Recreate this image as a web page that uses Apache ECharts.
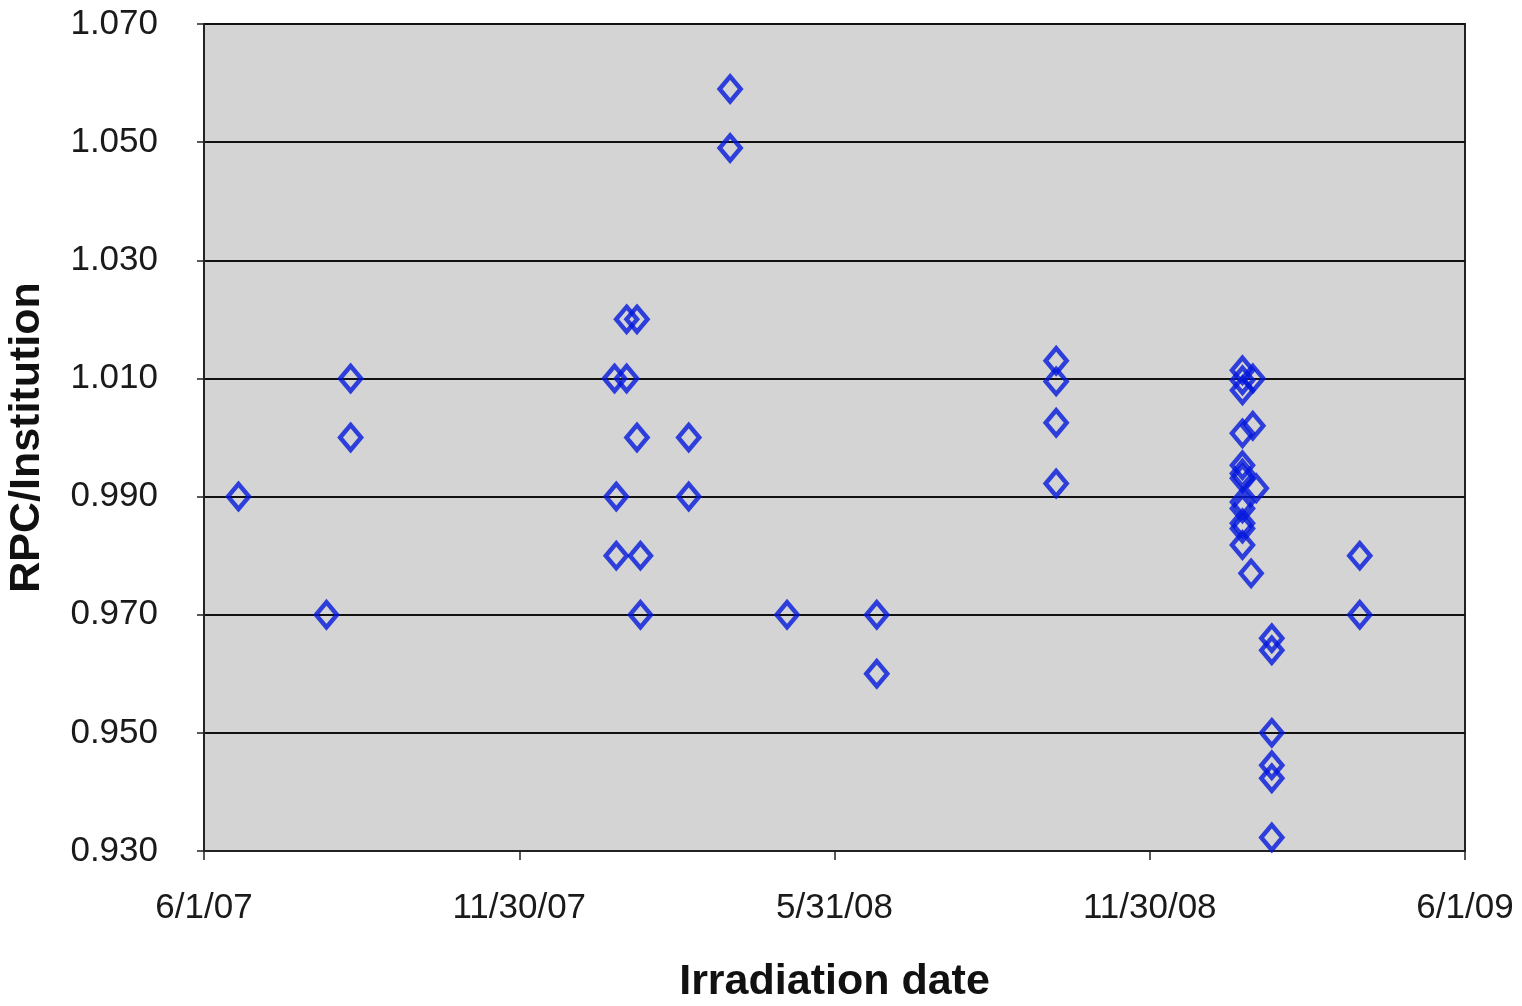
<!DOCTYPE html>
<html>
<head>
<meta charset="utf-8">
<script src="https://cdn.jsdelivr.net/npm/echarts@6/dist/echarts.min.js"></script>
<style>
  html, body { margin: 0; padding: 0; background: #fff; }
  #chart { width: 1522px; height: 1006px; }
</style>
</head>
<body>
<div id="chart"></div>
<script>
// irradiation dates and RPC/Institution ratios
var dates = [
  '2007-06-21', '2007-08-11', '2007-08-25', '2007-08-25',
  '2008-02-01', '2008-02-07', '2008-01-25', '2008-02-01', '2008-02-07', '2008-03-08',
  '2008-01-26', '2008-03-08', '2008-01-26', '2008-02-09', '2008-02-09',
  '2008-04-01', '2008-04-01', '2008-05-04', '2008-06-25', '2008-06-25',
  '2008-10-07', '2008-10-07', '2008-10-07', '2008-10-07',
  '2009-01-23', '2009-01-23', '2009-01-23', '2009-01-23', '2009-01-23', '2009-01-23',
  '2009-01-23', '2009-01-23', '2009-01-23', '2009-01-23', '2009-01-23', '2009-01-23',
  '2009-01-29', '2009-01-29', '2009-01-31', '2009-01-28',
  '2009-02-09', '2009-02-09', '2009-02-09', '2009-02-09', '2009-02-09', '2009-02-09',
  '2009-04-01', '2009-04-01'
];
var ratios = [
  0.990, 0.970, 1.010, 1.000,
  1.020, 1.020, 1.010, 1.010, 1.000, 1.000,
  0.990, 0.990, 0.980, 0.980, 0.970,
  1.059, 1.049, 0.970, 0.970, 0.960,
  1.013, 1.0095, 1.0025, 0.9922,
  1.0114, 1.0097, 1.008, 1.0007, 0.9953, 0.9939,
  0.9931, 0.9891, 0.9880, 0.9855, 0.9846, 0.9818,
  1.010, 1.002, 0.9914, 0.9770,
  0.966, 0.964, 0.950, 0.9445, 0.9423, 0.9323,
  0.980, 0.970
];
var xTickLabels = ['6/1/07', '11/30/07', '5/31/08', '11/30/08', '6/1/09'];
var yTicks = [0.930, 0.950, 0.970, 0.990, 1.010, 1.030, 1.050, 1.070];

var startDate = '2007-06-01';
var endDate = '2009-06-01';
var dayMs = 86400000;
function dayOf(d) {
  return (Date.parse(d) - Date.parse(startDate)) / dayMs;
}
var totalDays = dayOf(endDate);
var xStep = totalDays / (xTickLabels.length - 1);

var points = dates.map(function (d, i) { return [dayOf(d), ratios[i]]; });

var font = "'Liberation Sans', Arial, sans-serif";
var chart = echarts.init(document.getElementById('chart'));
chart.setOption({
  animation: false,
  grid: {
    left: 204, right: 57, top: 24, bottom: 155,
    containLabel: false,
    outerBoundsMode: 'none',
    show: true,
    backgroundColor: '#d4d4d4',
    borderColor: '#222',
    borderWidth: 2
  },
  xAxis: {
    type: 'value',
    min: 0,
    max: totalDays,
    interval: xStep,
    name: 'Irradiation date',
    nameLocation: 'middle',
    nameGap: 110,
    nameMoveOverlap: false,
    nameTextStyle: { fontFamily: font, fontSize: 43, fontWeight: 'bold', color: '#111' },
    axisLine: { lineStyle: { color: '#222', width: 2 } },
    axisTick: { show: true, length: 9, lineStyle: { color: '#222', width: 1.5 } },
    axisLabel: {
      margin: 40,
      fontFamily: font,
      fontSize: 35,
      color: '#1a1a1a',
      formatter: function (v) { return xTickLabels[Math.round(v / xStep)]; }
    },
    splitLine: { show: false }
  },
  yAxis: {
    type: 'value',
    min: yTicks[0],
    max: yTicks[yTicks.length - 1],
    interval: 0.02,
    name: 'RPC/Institution',
    nameLocation: 'middle',
    nameGap: 155,
    nameMoveOverlap: false,
    nameTextStyle: { fontFamily: font, fontSize: 43, fontWeight: 'bold', color: '#111' },
    axisLine: { show: true, lineStyle: { color: '#222', width: 2 } },
    axisTick: { show: true, length: 7, lineStyle: { color: '#222', width: 1.5 } },
    axisLabel: {
      margin: 46,
      fontFamily: font,
      fontSize: 35,
      color: '#1a1a1a',
      formatter: function (v) { return v.toFixed(3); }
    },
    splitLine: { show: true, lineStyle: { color: '#111', width: 2 } }
  },
  series: [{
    type: 'scatter',
    data: points,
    symbol: 'diamond',
    symbolSize: [21, 25],
    itemStyle: {
      color: 'rgba(0,0,0,0)',
      borderColor: '#0418dc',
      borderWidth: 4.5
    }
  }]
});
</script>
</body>
</html>
